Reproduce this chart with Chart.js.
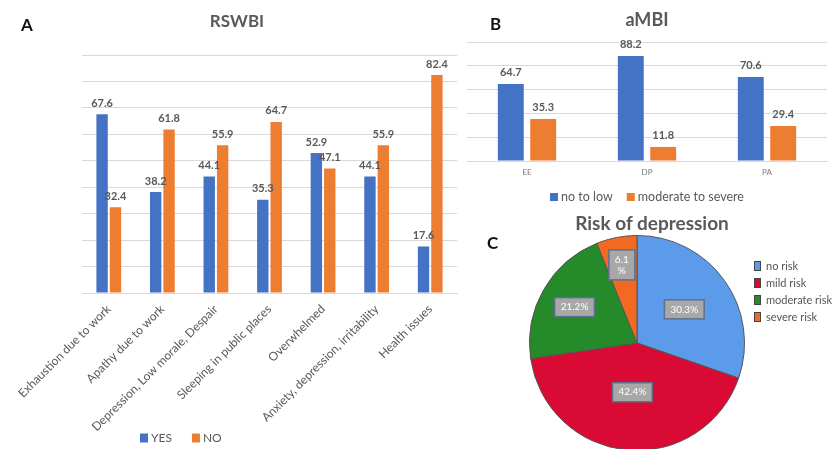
<!DOCTYPE html>
<html>
<head>
<meta charset="utf-8">
<script src="https://cdn.jsdelivr.net/npm/chart.js@4.4.1/dist/chart.umd.min.js"></script>
<style>
  html, body { margin: 0; padding: 0; background: #fff; }
  #fig { position: relative; width: 832px; height: 449px; overflow: hidden;
         font-family: Lato, "Liberation Sans", sans-serif; }
  .panel { position: absolute; }
  .letter { position: absolute; font-weight: 700; color: #111; font-size: 17px; line-height: 20px; }
  .ptitle { position: absolute; text-align: center; font-weight: 700; color: #595959; }
</style>
</head>
<body>
<div id="fig">
  <div class="panel" style="left:0;top:0;width:474px;height:449px"><canvas id="chartA"></canvas></div>
  <div class="panel" style="left:462px;top:0;width:370px;height:212px"><canvas id="chartB"></canvas></div>
  <div class="panel" style="left:480px;top:200px;width:352px;height:270px"><canvas id="chartC"></canvas></div>
  <div class="letter" style="left:21px;top:15px">A</div>
  <div class="letter" style="left:490px;top:14px">B</div>
  <div class="letter" style="left:487px;top:233px">C</div>
  <div class="ptitle" style="left:137px;top:10px;width:200px;font-size:17px;line-height:22px">RSWBI</div>
  <div class="ptitle" style="left:552px;top:211px;width:200px;font-size:19px;line-height:24px">Risk of depression</div>
</div>
<script>
// ---- RSWBI (panel A) ----
const rswbiCategories = [
  'Exhaustion due to work',
  'Apathy due to work',
  'Depression, Low morale, Despair',
  'Sleeping in public places',
  'Overwhelmed',
  'Anxiety, depression, irritability',
  'Health issues'
];
const rswbiYes = [67.6, 38.2, 44.1, 35.3, 52.9, 44.1, 17.6];
const rswbiNo  = [32.4, 61.8, 55.9, 64.7, 47.1, 55.9, 82.4];

// ---- aMBI (panel B) ----
const ambiCategories = ['EE', 'DP', 'PA'];
const ambiNoToLow    = [64.7, 88.2, 70.6];
const ambiModSevere  = [35.3, 11.8, 29.4];

// ---- Risk of depression (panel C) ----
const riskLabels = ['no risk', 'mild risk', 'moderate risk', 'severe risk'];
const riskShares = [30.3, 42.4, 21.2, 6.1];

const BLUE = '#4472C4', ORANGE = '#ED7D31', GRID = '#d9d9d9', TEXT = '#595959';
const FONT = 'Lato, "Liberation Sans", sans-serif';

// Value printed above each bar
const valueLabels = {
  id: 'valueLabels',
  afterDatasetsDraw(chart, args, o) {
    const ctx = chart.ctx;
    ctx.save();
    ctx.font = o.font;
    ctx.fillStyle = o.color;
    ctx.textAlign = 'center';
    ctx.textBaseline = 'middle';
    chart.data.datasets.forEach((ds, di) => {
      chart.getDatasetMeta(di).data.forEach((bar, i) => {
        ctx.fillText(ds.data[i].toFixed(1), bar.x, bar.y - o.offset);
      });
    });
    ctx.restore();
  }
};

// Legend drawn at a chosen spot (row or column of swatches)
const placedLegend = {
  id: 'placedLegend',
  afterDraw(chart, args, o) {
    const ctx = chart.ctx;
    const items = o.perSlice
      ? chart.data.labels.map((t, i) => ({ text: t, fill: chart.data.datasets[0].backgroundColor[i] }))
      : chart.data.datasets.map(d => ({ text: d.label, fill: d.backgroundColor }));
    ctx.save();
    ctx.font = o.font;
    ctx.textBaseline = 'middle';
    ctx.textAlign = 'left';
    let x = o.x, y = o.y;
    items.forEach(it => {
      ctx.fillStyle = it.fill;
      ctx.fillRect(x, y - o.boxH / 2, o.boxW, o.boxH);
      if (o.boxBorder) {
        ctx.strokeStyle = o.boxBorder;
        ctx.lineWidth = 1;
        ctx.strokeRect(x + 0.5, y - o.boxH / 2 + 0.5, o.boxW - 1, o.boxH - 1);
      }
      ctx.fillStyle = o.color;
      ctx.fillText(it.text, x + o.boxW + o.textGap, y);
      if (o.vertical) y += o.rowGap;
      else x += o.boxW + o.textGap + ctx.measureText(it.text).width + o.itemGap;
    });
    ctx.restore();
  }
};

// Grey percentage boxes inside the pie slices
const sliceBoxes = {
  id: 'sliceBoxes',
  afterDatasetsDraw(chart, args, o) {
    const ctx = chart.ctx;
    const ds = chart.data.datasets[0];
    ctx.save();
    ctx.font = o.font;
    ctx.textAlign = 'center';
    ctx.textBaseline = 'middle';
    chart.getDatasetMeta(0).data.forEach((arc, i) => {
      const v = ds.data[i];
      const lines = v < 10 ? [v.toFixed(1), '%'] : [v.toFixed(1) + '%'];
      const mid = (arc.startAngle + arc.endAngle) / 2;
      const r = arc.outerRadius * o.radius[i];
      const cx = arc.x + Math.cos(mid) * r;
      const cy = arc.y + Math.sin(mid) * r;
      const w = Math.max(...lines.map(l => ctx.measureText(l).width)) + 2 * o.padX;
      const h = lines.length * o.lineH + 2 * o.padY;
      ctx.fillStyle = o.bg;
      ctx.fillRect(cx - w / 2, cy - h / 2, w, h);
      ctx.strokeStyle = o.border;
      ctx.lineWidth = 1.5;
      ctx.strokeRect(cx - w / 2, cy - h / 2, w, h);
      ctx.fillStyle = o.color;
      lines.forEach((l, k) => ctx.fillText(l, cx, cy - h / 2 + o.padY + o.lineH * (k + 0.5)));
    });
    ctx.restore();
  }
};

Chart.defaults.font.family = FONT;
Chart.defaults.animation = false;

// Panel A
new Chart(document.getElementById('chartA'), {
  type: 'bar',
  data: {
    labels: rswbiCategories,
    datasets: [
      { label: 'YES', data: rswbiYes, backgroundColor: BLUE },
      { label: 'NO',  data: rswbiNo,  backgroundColor: ORANGE }
    ]
  },
  options: {
    responsive: true,
    maintainAspectRatio: false,
    categoryPercentage: 0.5,
    barPercentage: 0.85,
    layout: { padding: { left: 82, right: 17, top: 55, bottom: 0 } },
    scales: {
      x: {
        grid: { display: false, drawTicks: false },
        border: { color: GRID },
        ticks: { autoSkip: false, minRotation: 45, maxRotation: 45, color: TEXT,
                 font: { size: 12 }, padding: 9 },
        afterFit(s) { s.height = 156; }
      },
      y: {
        min: 0, max: 90,
        ticks: { display: false, stepSize: 10 },
        grid: { color: GRID, drawTicks: false },
        border: { display: false },
        afterFit(s) { s.width = 0; }
      }
    },
    plugins: {
      legend: { display: false },
      tooltip: { enabled: false },
      valueLabels: { font: 'bold 11px ' + FONT, color: TEXT, offset: 11 },
      placedLegend: { x: 140, y: 438, boxW: 8, boxH: 9, textGap: 3, itemGap: 20,
                      font: '12px ' + FONT, color: TEXT }
    }
  },
  plugins: [valueLabels, placedLegend]
});

// Panel B
new Chart(document.getElementById('chartB'), {
  type: 'bar',
  data: {
    labels: ambiCategories,
    datasets: [
      { label: 'no to low', data: ambiNoToLow, backgroundColor: BLUE },
      { label: 'moderate to severe', data: ambiModSevere, backgroundColor: ORANGE }
    ]
  },
  options: {
    responsive: true,
    maintainAspectRatio: false,
    categoryPercentage: 0.54,
    barPercentage: 0.8,
    layout: { padding: { left: 5, right: 5, top: 0, bottom: 0 } },
    scales: {
      x: {
        grid: { display: false, drawTicks: false },
        border: { color: GRID },
        ticks: { color: '#777', font: { size: 8 }, padding: 7 },
        afterFit(s) { s.height = 51; }
      },
      y: {
        min: 0, max: 100,
        ticks: { display: false, stepSize: 20 },
        grid: { color: GRID, drawTicks: false },
        border: { display: false },
        afterFit(s) { s.width = 0; }
      }
    },
    plugins: {
      legend: { display: false },
      tooltip: { enabled: false },
      title: { display: true, text: 'aMBI', color: TEXT,
               font: { size: 18, weight: 'bold' }, padding: { top: 9, bottom: 11.4 } },
      valueLabels: { font: 'bold 11px ' + FONT, color: TEXT, offset: 12 },
      placedLegend: { x: 88, y: 197, boxW: 8, boxH: 8, textGap: 3, itemGap: 14,
                      font: '12.5px ' + FONT, color: TEXT }
    }
  },
  plugins: [valueLabels, placedLegend]
});

// Panel C
new Chart(document.getElementById('chartC'), {
  type: 'pie',
  data: {
    labels: riskLabels,
    datasets: [{
      data: riskShares,
      backgroundColor: ['#5b9bea', '#d90b35', '#248a2a', '#f26a22'],
      borderColor: '#555',
      borderWidth: 1
    }]
  },
  options: {
    responsive: true,
    maintainAspectRatio: false,
    layout: { padding: { left: 49, right: 87, top: 35, bottom: 19 } },
    plugins: {
      legend: { display: false },
      tooltip: { enabled: false },
      sliceBoxes: { font: '10px ' + FONT, color: '#fff', bg: '#a8a8a8', border: '#60708c',
                    padX: 6, padY: 4, lineH: 11, radius: [0.54, 0.46, 0.67, 0.74] },
      placedLegend: { perSlice: true, vertical: true, x: 274, y: 66, rowGap: 17,
                      boxW: 7, boxH: 10, textGap: 5, boxBorder: '#444',
                      font: '11px ' + FONT, color: '#555' }
    }
  },
  plugins: [sliceBoxes, placedLegend]
});
</script>
</body>
</html>
